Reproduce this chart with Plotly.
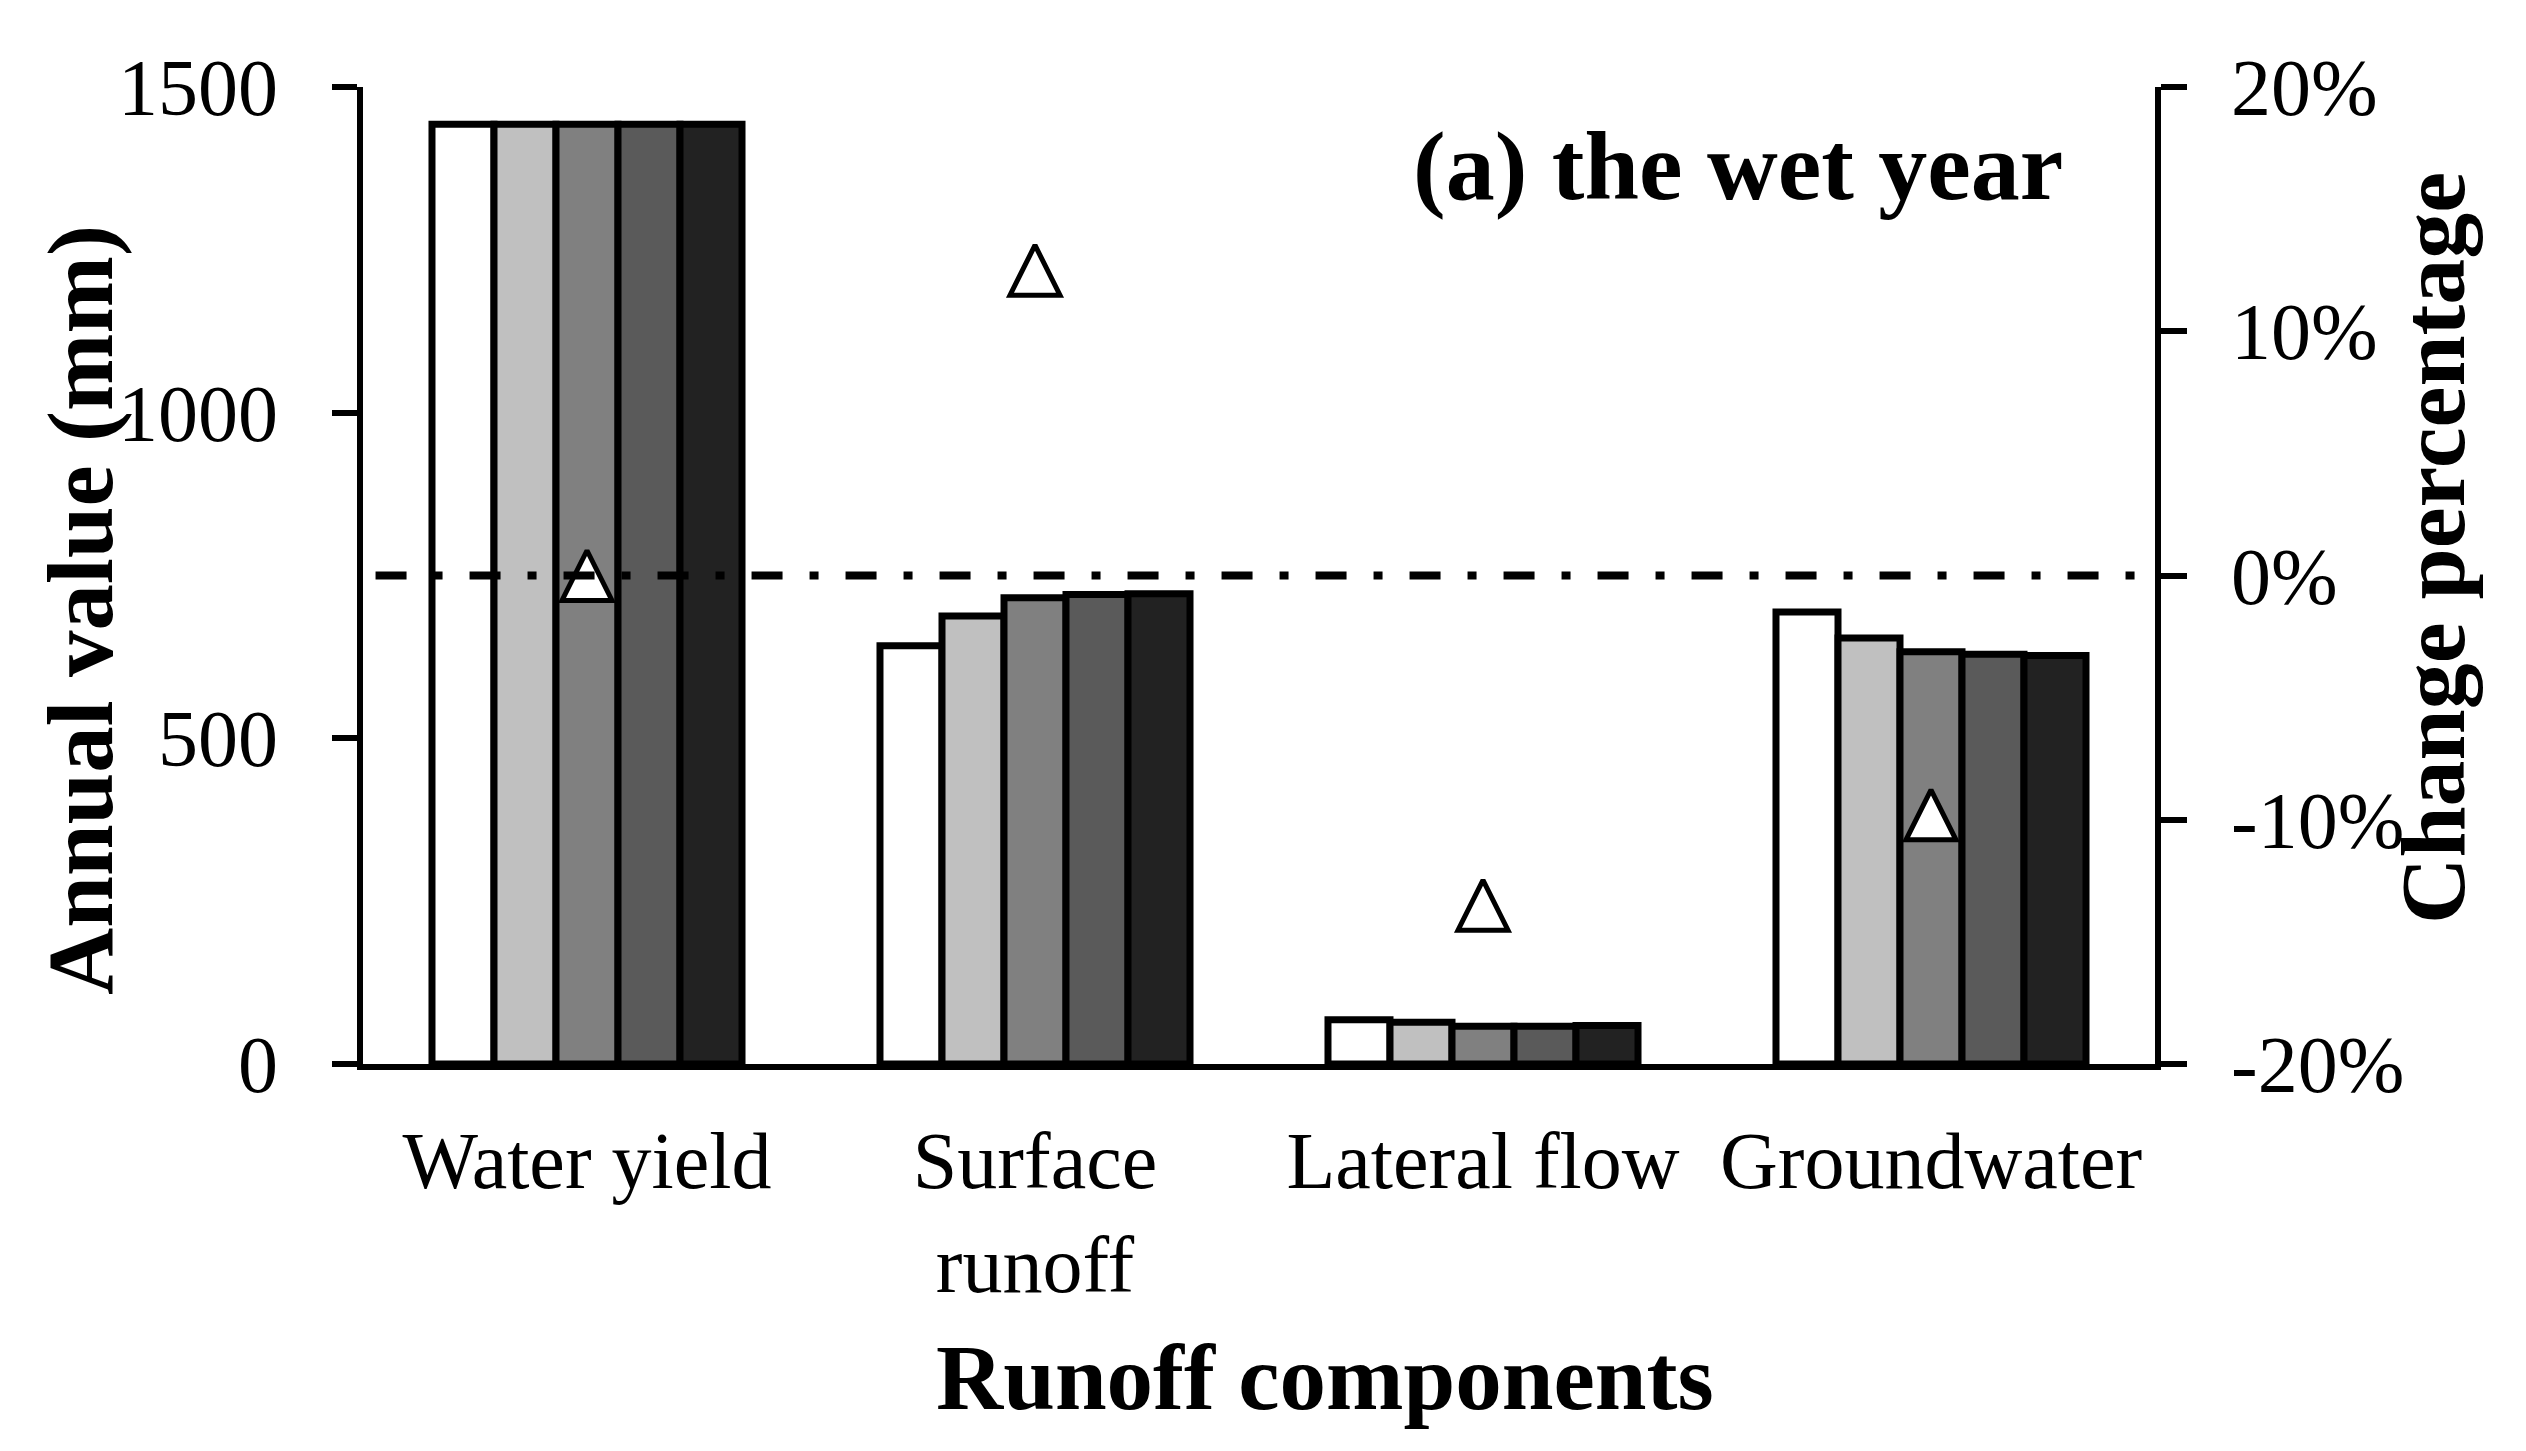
import plotly.graph_objects as go

# ---- data ----
categories = ["Water yield", "Surface runoff", "Lateral flow", "Groundwater"]
tick_labels = ["Water yield", "Surface<br>runoff", "Lateral flow", "Groundwater"]

scenario_1 = [1443, 642, 68, 694]
scenario_2 = [1443, 688, 64, 654]
scenario_3 = [1443, 716, 58, 633]
scenario_4 = [1443, 721, 58, 629]
scenario_5 = [1443, 722, 59, 627]

change_pct = [0.0, 12.5, -13.5, -9.8]

y_ticks = [0, 500, 1000, 1500]
y2_ticks = [-20, -10, 0, 10, 20]
y2_tick_text = ["-20%", "-10%", "0%", "10%", "20%"]

series = [scenario_1, scenario_2, scenario_3, scenario_4, scenario_5]
series_names = ["Scenario 1", "Scenario 2", "Scenario 3", "Scenario 4", "Scenario 5"]
bar_colors = ["#FFFFFF", "#C0C0C0", "#808080", "#5A5A5A", "#222222"]

FONT = "Liberation Serif, Times New Roman, serif"

W, H = 2526, 1451
ML, MR, MT, MB = 363, 371, 87, 387
plot_h = H - MT - MB
pct_range = [-20, 20]

# marker: arrow-up symbol (tip at the point); a hidden overlay axis shifts it so the
# triangle is centred on the value
MSIZE = 50
shift = (MSIZE / 2) / (plot_h / (pct_range[1] - pct_range[0]))

fig = go.Figure()
for name, vals, col in zip(series_names, series, bar_colors):
    fig.add_trace(go.Bar(
        x=categories, y=vals, name=name,
        marker=dict(color=col, line=dict(color="black", width=7)),
        showlegend=False,
    ))

fig.add_trace(go.Scatter(
    x=categories, y=change_pct, yaxis="y3", mode="markers",
    marker=dict(symbol="arrow-up", size=MSIZE, color="white",
                line=dict(color="black", width=5)),
    name="Change percentage", showlegend=False,
))

# dash-dot reference line at 0 %
fig.add_shape(type="line", xref="paper", yref="y2", x0=0.007, x1=1, y0=0, y1=0,
              line=dict(color="black", width=8, dash="31px,27px,9px,27px"), layer="above")

fig.update_layout(
    width=W, height=H,
    margin=dict(l=ML, r=MR, t=MT, b=MB),
    paper_bgcolor="white", plot_bgcolor="white",
    barmode="group", bargap=0.308, bargroupgap=0,
    font=dict(family=FONT, color="black", size=80),
    xaxis=dict(
        tickvals=categories, ticktext=tick_labels,
        showline=True, linecolor="black", linewidth=6,
        ticks="", showgrid=False, zeroline=False,
        tickfont=dict(size=80, family=FONT),
        ticklabelstandoff=22,
    ),
    yaxis=dict(
        range=[0, 1500], tickvals=y_ticks,
        showline=True, linecolor="black", linewidth=6,
        ticks="outside", ticklen=25, tickwidth=6, tickcolor="black",
        showgrid=False, zeroline=False,
        tickfont=dict(size=80, family=FONT),
        ticklabelstandoff=38,
    ),
    yaxis2=dict(
        overlaying="y", side="right", range=pct_range,
        tickvals=y2_ticks, ticktext=y2_tick_text,
        showline=True, linecolor="black", linewidth=6,
        ticks="outside", ticklen=26, tickwidth=6, tickcolor="black",
        showgrid=False, zeroline=False,
        tickfont=dict(size=80, family=FONT),
        ticklabelstandoff=28,
    ),
    yaxis3=dict(
        overlaying="y", range=[pct_range[0] - shift, pct_range[1] - shift],
        visible=False,
    ),
    annotations=[
        dict(text="<b>(a) the wet year</b>", xref="paper", yref="paper",
             x=0.95, y=0.9187, xanchor="right", yanchor="middle",
             showarrow=False, font=dict(size=98, family=FONT, color="black")),
        dict(text="<b>Annual value (mm)</b>", xref="paper", yref="paper",
             x=(80 - ML) / (W - ML - MR), y=(H - MB - 610) / plot_h,
             xanchor="center", yanchor="middle", textangle=-90, showarrow=False,
             font=dict(size=93, family=FONT, color="black")),
        dict(text="<b>Change percentage</b>", xref="paper", yref="paper",
             x=(2433 - ML) / (W - ML - MR), y=(H - MB - 548) / plot_h,
             xanchor="center", yanchor="middle", textangle=-90, showarrow=False,
             font=dict(size=92, family=FONT, color="black")),
        dict(text="<b>Runoff components</b>", xref="paper", yref="paper",
             x=(1325 - ML) / (W - ML - MR), y=(H - MB - 1377) / plot_h,
             xanchor="center", yanchor="middle", showarrow=False,
             font=dict(size=93, family=FONT, color="black")),
    ],
)

fig.write_html("out.html", config={"displayModeBar": False},
               post_script="document.body.style.margin='0';")
